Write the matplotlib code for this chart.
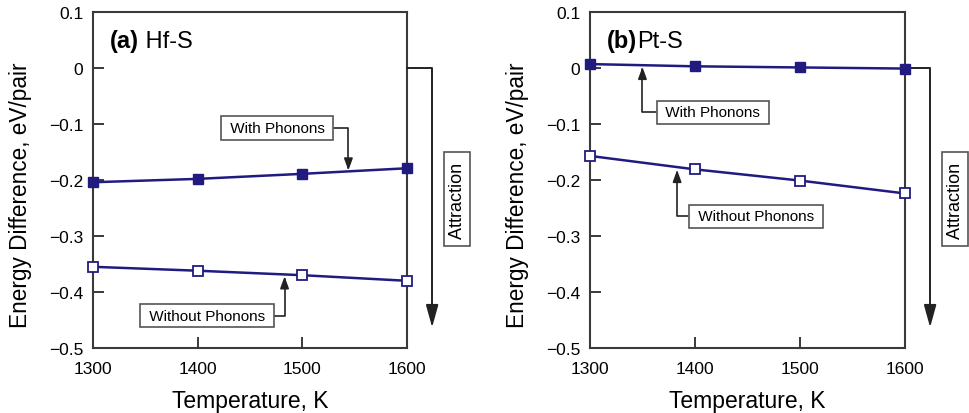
import matplotlib
matplotlib.use("Agg")
import matplotlib.pyplot as plt

plt.rcParams['font.family'] = ['Liberation Sans', 'DejaVu Sans']

# data
temps = [1300, 1400, 1500, 1600]
hf_with = [-0.204, -0.198, -0.189, -0.179]
hf_without = [-0.355, -0.362, -0.370, -0.380]
pt_with = [0.007, 0.003, 0.001, -0.001]
pt_without = [-0.157, -0.181, -0.201, -0.224]
yticks = [0.1, 0, -0.1, -0.2, -0.3, -0.4, -0.5]
yticklabels = ['0.1', '0', '\u22120.1', '\u22120.2', '\u22120.3', '\u22120.4', '\u22120.5']

line_col = '#211b80'
edge_col = '#3a3a3a'
box = dict(boxstyle='square,pad=0.3', fc='white', ec='#555555', lw=1.2)
arrow = dict(arrowstyle='-|>,head_length=0.55,head_width=0.2', color='#222222',
             lw=1.2, shrinkA=0, shrinkB=0, mutation_scale=13,
             connectionstyle='angle,angleA=0,angleB=90,rad=0')
big_arrow = dict(arrowstyle='-|>,head_length=0.9,head_width=0.25', color='#222222',
                 lw=1.4, shrinkA=0, shrinkB=0, mutation_scale=15,
                 connectionstyle='angle,angleA=0,angleB=90,rad=0')

fig = plt.figure(figsize=(9.7, 4.14), dpi=100)
ax1 = fig.add_axes([0.0959, 0.157, 0.3237, 0.8116])
ax2 = fig.add_axes([0.6082, 0.157, 0.3247, 0.8116])


def setup(ax, letter, name):
    ax.set_xlim(1300, 1600)
    ax.set_ylim(-0.5, 0.1)
    ax.set_xticks(temps)
    ax.set_yticks(yticks)
    ax.set_yticklabels(yticklabels)
    ax.tick_params(direction='in', length=8, width=1.4, color=edge_col,
                   labelsize=12.5, top=False, right=False)
    ax.tick_params(axis='y', pad=7)
    ax.tick_params(axis='x', pad=9)
    for s in ax.spines.values():
        s.set_color(edge_col)
        s.set_linewidth(1.5)
    ax.set_xlabel('Temperature, K', fontsize=16.5, labelpad=10)
    ax.set_ylabel('Energy Difference, eV/pair', fontsize=16.3)
    ax.yaxis.set_label_coords(-0.194, 0.458)
    t = ax.text(0.054, 0.915, letter, transform=ax.transAxes, fontsize=17,
                fontweight='bold', va='center', ha='left')
    ax.annotate(name, xy=(1, 0.5), xycoords=t, va='center', ha='left',
                fontsize=17)
    # attraction arrow off the right spine
    ax.annotate('', xy=(1624, -0.463), xytext=(1600, 0), arrowprops=big_arrow,
                annotation_clip=False)
    ax.text(1648, -0.234, ' Attraction ', rotation=90, ha='center', va='center',
            fontsize=13, bbox=dict(boxstyle='square,pad=0.25', fc='white',
                                   ec='#555555', lw=1.2), clip_on=False)


def series(ax, w, wo):
    ax.plot(temps, w, color=line_col, lw=1.8, marker='s', ms=7.5,
            mfc=line_col, mec=line_col, clip_on=False, zorder=3)
    ax.plot(temps, wo, color=line_col, lw=1.8, marker='s', ms=7.5,
            mfc='white', mec=line_col, mew=1.3, clip_on=False, zorder=3)


setup(ax1, '(a)', ' Hf-S')
series(ax1, hf_with, hf_without)
ax1.annotate(' With Phonons ', xy=(1544, -0.183), xytext=(1476, -0.107),
             ha='center', va='center', fontsize=11, bbox=box, arrowprops=arrow)
ax1.annotate(' Without Phonons ', xy=(1483, -0.372), xytext=(1409, -0.442),
             ha='center', va='center', fontsize=11, bbox=box, arrowprops=arrow)

setup(ax2, '(b)', 'Pt-S')
series(ax2, pt_with, pt_without)
ax2.annotate(' With Phonons ', xy=(1350, 0.002), xytext=(1417, -0.079),
             ha='center', va='center', fontsize=11, bbox=box, arrowprops=arrow)
ax2.annotate(' Without Phonons ', xy=(1383, -0.182), xytext=(1458, -0.265),
             ha='center', va='center', fontsize=11, bbox=box, arrowprops=arrow)

fig.savefig('out.png', dpi=100)
